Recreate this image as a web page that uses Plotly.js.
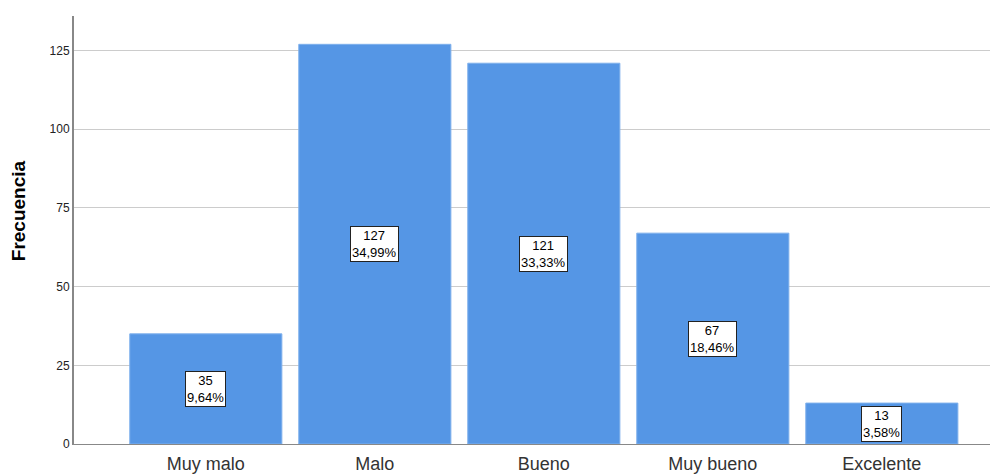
<!DOCTYPE html>
<html><head><meta charset="utf-8">
<script src="https://cdn.plot.ly/plotly-3.0.1.min.js"></script>
<style>html,body{margin:0;padding:0;background:#fff}#c{width:992px;height:474px}</style>
</head><body><div id="c"></div>
<script>
const categories = ["Muy malo", "Malo", "Bueno", "Muy bueno", "Excelente"];
const counts = [35, 127, 121, 67, 13];
const percents = ["9,64%", "34,99%", "33,33%", "18,46%", "3,58%"];
const yTicks = [0, 25, 50, 75, 100, 125];

const trace = {
  type: "bar",
  x: categories,
  y: counts,
  width: 0.9,
  marker: {color: "#5596E5", line: {color: "#7FB0EC", width: 1}},
  hoverinfo: "x+y"
};
const annotations = categories.map((c, i) => ({
  x: c, y: counts[i] / 2, xref: "x", yref: "y",
  text: counts[i] + "<br>" + percents[i],
  showarrow: false,
  bgcolor: "#ffffff", bordercolor: "#222222", borderwidth: 1, borderpad: 1,
  font: {family: "Arial, Liberation Sans, sans-serif", size: 13, color: "#000"}
}));
annotations.push({
  xref: "paper", yref: "paper", x: -0.0611, y: 0.544,
  text: "<b>Frecuencia</b>", textangle: -90, showarrow: false,
  xanchor: "center", yanchor: "middle",
  font: {family: "Arial, Liberation Sans, sans-serif", size: 19, color: "#000"}
});
const layout = {
  width: 992, height: 474,
  margin: {l: 74, r: 2, t: 16, b: 30},
  paper_bgcolor: "#fff", plot_bgcolor: "#fff",
  showlegend: false,
  bargap: 0.1,
  font: {family: "Arial, Liberation Sans, sans-serif", color: "#222"},
  xaxis: {
    type: "category", range: [-0.78, 4.64],
    showline: true, linecolor: "#888", linewidth: 1,
    showgrid: false, ticks: "", zeroline: false,
    ticklabelstandoff: 3,
    tickfont: {size: 18, color: "#333"}
  },
  yaxis: {
    range: [0, 136], tickvals: yTicks,
    showline: true, linecolor: "#888", linewidth: 2,
    showgrid: true, gridcolor: "#CCCCCC", gridwidth: 1,
    zeroline: false, ticks: "", ticklen: 0,
    tickfont: {size: 12, color: "#222"}
  },
  annotations: annotations
};
Plotly.newPlot("c", [trace], layout, {displayModeBar: false, staticPlot: true});
</script></body></html>
